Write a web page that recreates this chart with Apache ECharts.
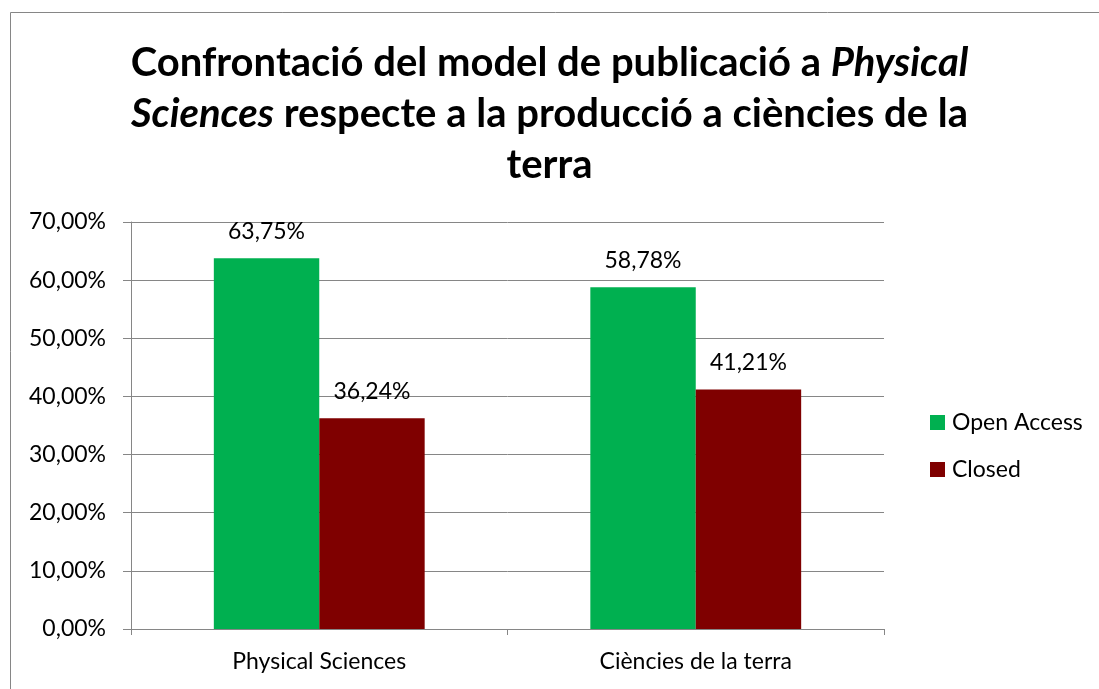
<!DOCTYPE html>
<html>
<head>
<meta charset="utf-8">
<script src="https://cdn.jsdelivr.net/npm/echarts@6/dist/echarts.min.js"></script>
<style>
  html, body { margin: 0; padding: 0; background: #fff; }
  #chart { width: 1099px; height: 689px; }
</style>
</head>
<body>
<div id="chart"></div>
<script>
const categories = ['Physical Sciences', 'Ciències de la terra']
const openAccess = [63.75, 58.78]
const closed = [36.24, 41.21]
const yTicks = [0, 10, 20, 30, 40, 50, 60, 70]

const fontFamily = 'Lato, "Open Sans", sans-serif'
const pct = (v) => v.toFixed(2).replace('.', ',') + '%'

const chart = echarts.init(document.getElementById('chart'))

const option = {
  backgroundColor: '#fff',
  textStyle: { fontFamily: fontFamily },
  title: {
    left: 'center',
    top: 33,
    text: '{b|Confrontació del model de publicació a }{i|Physical}\n{i|Sciences}{b| respecte a la producció a ciències de la}\n{b|terra}',
    textStyle: {
      rich: {
        b: { fontFamily: fontFamily, fontSize: 40, fontWeight: 'bold', color: '#000', lineHeight: 51 },
        i: { fontFamily: fontFamily, fontSize: 40, fontWeight: 'bold', fontStyle: 'italic', color: '#000', lineHeight: 51 }
      }
    }
  },
  graphic: [
    {
      type: 'rect',
      shape: { x: 10.5, y: 12.5, width: 1200, height: 800 },
      style: { fill: 'none', stroke: '#868686', lineWidth: 1 },
      silent: true
    }
  ],
  legend: {
    orient: 'vertical',
    left: 925,
    top: 406,
    itemWidth: 15,
    itemHeight: 15,
    itemGap: 24,
    icon: 'rect',
    textStyle: { fontFamily: fontFamily, fontSize: 23, color: '#000', padding: [0, 0, 0, 2] },
    data: ['Open Access', 'Closed']
  },
  grid: {
    left: 131,
    right: 215,
    top: 222,
    bottom: 60,
    containLabel: false
  },
  xAxis: {
    type: 'category',
    data: categories,
    axisLine: { show: true, lineStyle: { color: '#868686', width: 1 } },
    axisTick: { show: true, length: 6, alignWithLabel: false, lineStyle: { color: '#868686' } },
    axisLabel: { color: '#000', fontSize: 23, margin: 21, fontFamily: fontFamily }
  },
  yAxis: {
    type: 'value',
    min: 0,
    max: 70,
    interval: 10,
    axisLine: { show: true, lineStyle: { color: '#868686', width: 1 } },
    axisTick: { show: true, length: 8, lineStyle: { color: '#868686' } },
    splitLine: { show: true, lineStyle: { color: '#868686', width: 1 } },
    axisLabel: {
      color: '#000',
      fontSize: 23,
      margin: 25,
      fontFamily: fontFamily,
      formatter: (v) => (yTicks.includes(v) ? pct(v) : '')
    }
  },
  series: [
    {
      name: 'Open Access',
      type: 'bar',
      data: openAccess,
      barGap: '0%',
      barCategoryGap: '44%',
      itemStyle: { color: '#00b050' },
      label: {
        show: true,
        position: 'top',
        distance: 15,
        color: '#000',
        fontSize: 23,
        fontFamily: fontFamily,
        formatter: (p) => pct(p.value)
      }
    },
    {
      name: 'Closed',
      type: 'bar',
      data: closed,
      barGap: '0%',
      barCategoryGap: '44%',
      itemStyle: { color: '#7f0000' },
      label: {
        show: true,
        position: 'top',
        distance: 15,
        color: '#000',
        fontSize: 23,
        fontFamily: fontFamily,
        formatter: (p) => pct(p.value)
      }
    }
  ]
}

chart.setOption(option)
</script>
</body>
</html>
